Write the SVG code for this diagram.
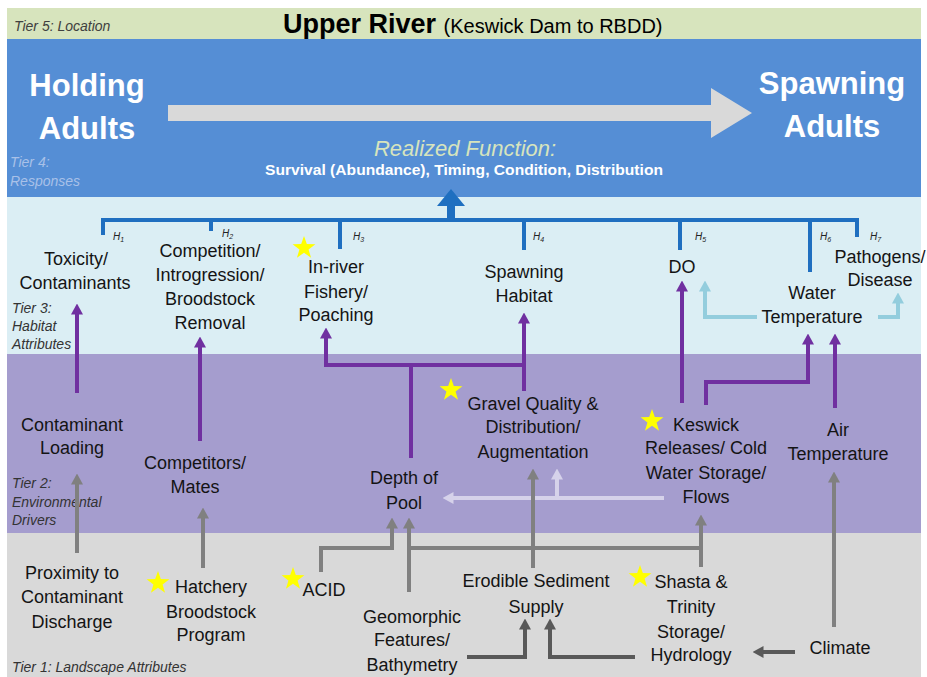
<svg xmlns="http://www.w3.org/2000/svg" xmlns:xlink="http://www.w3.org/1999/xlink" width="927" height="677" viewBox="0 0 927 677">
<style>
.n{font-family:"Liberation Sans",Arial,sans-serif;font-size:18px;fill:#141414;text-anchor:middle}
.tier{font-family:"Liberation Sans",Arial,sans-serif;font-style:italic;font-size:14px;fill:#333}
.h{font-family:"Liberation Sans",Arial,sans-serif;font-style:italic;font-size:10px;fill:#222}
.big{font-family:"Liberation Sans",Arial,sans-serif;font-weight:bold;font-size:31px;fill:#fff;text-anchor:middle}
.pu{fill:none;stroke:#7030a0;stroke-width:4}
.gr{fill:none;stroke:#808080;stroke-width:4}
.dg{fill:none;stroke:#595959;stroke-width:4}
.lb{fill:none;stroke:#93cddd;stroke-width:4}
.lv{fill:none;stroke:#d6d2ea;stroke-width:4}
.bl{fill:none;stroke:#1f6fc0;stroke-width:4}
.star{fill:#ffff00}
</style>
<defs>
<marker id="mpu" markerUnits="userSpaceOnUse" viewBox="0 0 11 12" markerWidth="11" markerHeight="12" refX="0.5" refY="6" orient="auto"><path d="M0,0 L11,6 L0,12 z" fill="#7030a0"/></marker>
<marker id="mgr" markerUnits="userSpaceOnUse" viewBox="0 0 11 12" markerWidth="11" markerHeight="12" refX="0.5" refY="6" orient="auto"><path d="M0,0 L11,6 L0,12 z" fill="#808080"/></marker>
<marker id="mdg" markerUnits="userSpaceOnUse" viewBox="0 0 11 12" markerWidth="11" markerHeight="12" refX="0.5" refY="6" orient="auto"><path d="M0,0 L11,6 L0,12 z" fill="#595959"/></marker>
<marker id="mlb" markerUnits="userSpaceOnUse" viewBox="0 0 11 12" markerWidth="11" markerHeight="12" refX="0.5" refY="6" orient="auto"><path d="M0,0 L11,6 L0,12 z" fill="#93cddd"/></marker>
<marker id="mlv" markerUnits="userSpaceOnUse" viewBox="0 0 11 12" markerWidth="11" markerHeight="12" refX="0.5" refY="6" orient="auto"><path d="M0,0 L11,6 L0,12 z" fill="#d6d2ea"/></marker>
<path id="st" d="M0,-12 L2.82,-3.88 L11.41,-3.71 L4.57,1.48 L7.05,9.71 L0,4.8 L-7.05,9.71 L-4.57,1.48 L-11.41,-3.71 L-2.82,-3.88 Z"/>
</defs>

<rect width="927" height="677" fill="#fff"/>
<g id="bands">
<rect x="7" y="8" width="914" height="31" fill="#d7e4bd"/>
<rect x="7" y="39" width="914" height="158" fill="#558ed5"/>
<rect x="7" y="197" width="914" height="157" fill="#dbeef4"/>
<rect x="7" y="354" width="914" height="179" fill="#a59dce"/>
<rect x="7" y="533" width="914" height="144" fill="#d9d9d9"/>
</g>

<g id="tier-labels">
<text class="tier" x="14" y="31" style="fill:#404040">Tier 5: Location</text>
<text class="tier" x="10" y="167" style="fill:#a9c1e8">Tier 4:</text>
<text class="tier" x="10" y="186" style="fill:#a9c1e8">Responses</text>
<text class="tier" x="12" y="313">Tier 3:</text>
<text class="tier" x="12" y="331">Habitat</text>
<text class="tier" x="12" y="349">Attributes</text>
<text class="tier" x="12" y="488">Tier 2:</text>
<text class="tier" x="12" y="507">Environmental</text>
<text class="tier" x="12" y="525">Drivers</text>
<text class="tier" x="12" y="672">Tier 1: Landscape Attributes</text>
</g>

<g id="title">
<text x="283" y="33" font-family="Liberation Sans, Arial, sans-serif" font-weight="bold" font-size="27" fill="#000">Upper River <tspan font-weight="normal" font-size="20">(Keswick Dam to RBDD)</tspan></text>
</g>

<g id="holding-adults"><text class="big" x="87" y="96">Holding</text><text class="big" x="87" y="139">Adults</text></g>
<g id="spawning-adults"><text class="big" x="832" y="94">Spawning</text><text class="big" x="832" y="137">Adults</text></g>
<polygon points="168,105 711,105 711,88 752,113 711,138 711,121 168,121" fill="#d9d9d9"/>

<g id="realized-function">
<text x="465" y="156" font-family="Liberation Sans, Arial, sans-serif" font-style="italic" font-size="22" fill="#d7e4bd" text-anchor="middle">Realized Function:</text>
<text x="464" y="175" font-family="Liberation Sans, Arial, sans-serif" font-weight="bold" font-size="15" fill="#fff" text-anchor="middle" textLength="398" lengthAdjust="spacingAndGlyphs">Survival (Abundance), Timing, Condition, Distribution</text>
</g>

<g id="connectors">
<path class="bl" d="M103,235 V220 H857 V237"/>
<path class="bl" d="M211,220 V231 M340,220 V249 M524,220 V250 M680,220 V250 M810,220 V272"/>
<rect x="447" y="203" width="8" height="17" fill="#1f6fc0"/>
<polygon points="437,206 451,189 465,206" fill="#1f6fc0"/>

<path class="pu" d="M77,393 V314" marker-end="url(#mpu)"/>
<path class="pu" d="M200,441 V347" marker-end="url(#mpu)"/>
<path class="pu" d="M411,458 V365"/>
<path class="pu" d="M524,391 V323" marker-end="url(#mpu)"/>
<path class="pu" d="M524,365 H326 V338" marker-end="url(#mpu)"/>
<path class="pu" d="M682,403 V291" marker-end="url(#mpu)"/>
<path class="pu" d="M706,405 V382 H808 V344" marker-end="url(#mpu)"/>
<path class="pu" d="M835,408 V344" marker-end="url(#mpu)"/>

<path class="lb" d="M757,317 H705 V291" marker-end="url(#mlb)"/>
<path class="lb" d="M878,317 H898 V303" marker-end="url(#mlb)"/>

<path class="lv" d="M664,498 H453" marker-end="url(#mlv)"/>
<path class="lv" d="M557,498 V479" marker-end="url(#mlv)"/>

<path class="gr" d="M77,553 V484" marker-end="url(#mgr)"/>
<path class="gr" d="M203,568 V518" marker-end="url(#mgr)"/>
<path class="gr" d="M321,572 V548 H392 V528" marker-end="url(#mgr)"/>
<path class="gr" d="M409,592 V528" marker-end="url(#mgr)"/>
<path class="gr" d="M409,548 H701"/>
<path class="gr" d="M701,567 V525" marker-end="url(#mgr)"/>
<path class="gr" d="M533,568 V479" marker-end="url(#mgr)"/>
<path class="gr" d="M834,627 V482" marker-end="url(#mgr)"/>

<path class="dg" d="M795,652 H763" marker-end="url(#mdg)"/>
<path class="dg" d="M467,657 H525 V629" marker-end="url(#mdg)"/>
<path class="dg" d="M635,657 H550 V629" marker-end="url(#mdg)"/>
</g>

<g id="h-labels">
<text class="h" x="113" y="240">H<tspan font-size="7" dy="2">1</tspan></text>
<text class="h" x="222" y="237">H<tspan font-size="7" dy="2">2</tspan></text>
<text class="h" x="353" y="240">H<tspan font-size="7" dy="2">3</tspan></text>
<text class="h" x="533" y="240">H<tspan font-size="7" dy="2">4</tspan></text>
<text class="h" x="695" y="240">H<tspan font-size="7" dy="2">5</tspan></text>
<text class="h" x="820" y="240">H<tspan font-size="7" dy="2">6</tspan></text>
<text class="h" x="870" y="240">H<tspan font-size="7" dy="2">7</tspan></text>
</g>

<g id="toxicity"><text class="n" x="76" y="265">Toxicity/</text><text class="n" x="75" y="289">Contaminants</text></g>
<g id="competition"><text class="n" x="210" y="257">Competition/</text><text class="n" x="210" y="281">Introgression/</text><text class="n" x="210" y="305">Broodstock</text><text class="n" x="210" y="329">Removal</text></g>
<g id="fishery"><use href="#st" class="star" x="304" y="248"/><text class="n" x="336" y="273">In-river</text><text class="n" x="336" y="298">Fishery/</text><text class="n" x="336" y="321">Poaching</text></g>
<g id="spawning-habitat"><text class="n" x="524" y="278">Spawning</text><text class="n" x="524" y="302">Habitat</text></g>
<g id="do"><text class="n" x="682" y="273">DO</text></g>
<g id="water-temperature"><text class="n" x="812" y="299">Water</text><text class="n" x="812" y="323">Temperature</text></g>
<g id="pathogens"><text class="n" x="880" y="263">Pathogens/</text><text class="n" x="880" y="286">Disease</text></g>

<g id="contaminant-loading"><text class="n" x="72" y="431">Contaminant</text><text class="n" x="72" y="454">Loading</text></g>
<g id="competitors"><text class="n" x="195" y="469">Competitors/</text><text class="n" x="195" y="493">Mates</text></g>
<g id="depth-of-pool"><text class="n" x="404" y="484">Depth of</text><text class="n" x="404" y="509">Pool</text></g>
<g id="gravel"><use href="#st" class="star" x="451" y="390"/><text class="n" x="533" y="410">Gravel Quality &amp;</text><text class="n" x="533" y="433">Distribution/</text><text class="n" x="533" y="458">Augmentation</text></g>
<g id="keswick"><use href="#st" class="star" x="652" y="421"/><text class="n" x="706" y="431">Keswick</text><text class="n" x="706" y="454">Releases/ Cold</text><text class="n" x="706" y="479">Water Storage/</text><text class="n" x="706" y="503">Flows</text></g>
<g id="air-temperature"><text class="n" x="838" y="436">Air</text><text class="n" x="838" y="460">Temperature</text></g>

<g id="proximity"><text class="n" x="72" y="579">Proximity to</text><text class="n" x="72" y="603">Contaminant</text><text class="n" x="72" y="628">Discharge</text></g>
<g id="hatchery"><use href="#st" class="star" x="158" y="583"/><text class="n" x="211" y="593">Hatchery</text><text class="n" x="211" y="618">Broodstock</text><text class="n" x="211" y="641">Program</text></g>
<g id="acid"><use href="#st" class="star" x="293" y="579"/><text class="n" x="324" y="596">ACID</text></g>
<g id="geomorphic"><text class="n" x="412" y="623">Geomorphic</text><text class="n" x="412" y="646">Features/</text><text class="n" x="412" y="671">Bathymetry</text></g>
<g id="erodible"><text class="n" x="536" y="587">Erodible Sediment</text><text class="n" x="536" y="613">Supply</text></g>
<g id="shasta"><use href="#st" class="star" x="640" y="577"/><text class="n" x="691" y="588">Shasta &amp;</text><text class="n" x="691" y="613">Trinity</text><text class="n" x="691" y="638">Storage/</text><text class="n" x="691" y="661">Hydrology</text></g>
<g id="climate"><text class="n" x="840" y="654">Climate</text></g>
</svg>
